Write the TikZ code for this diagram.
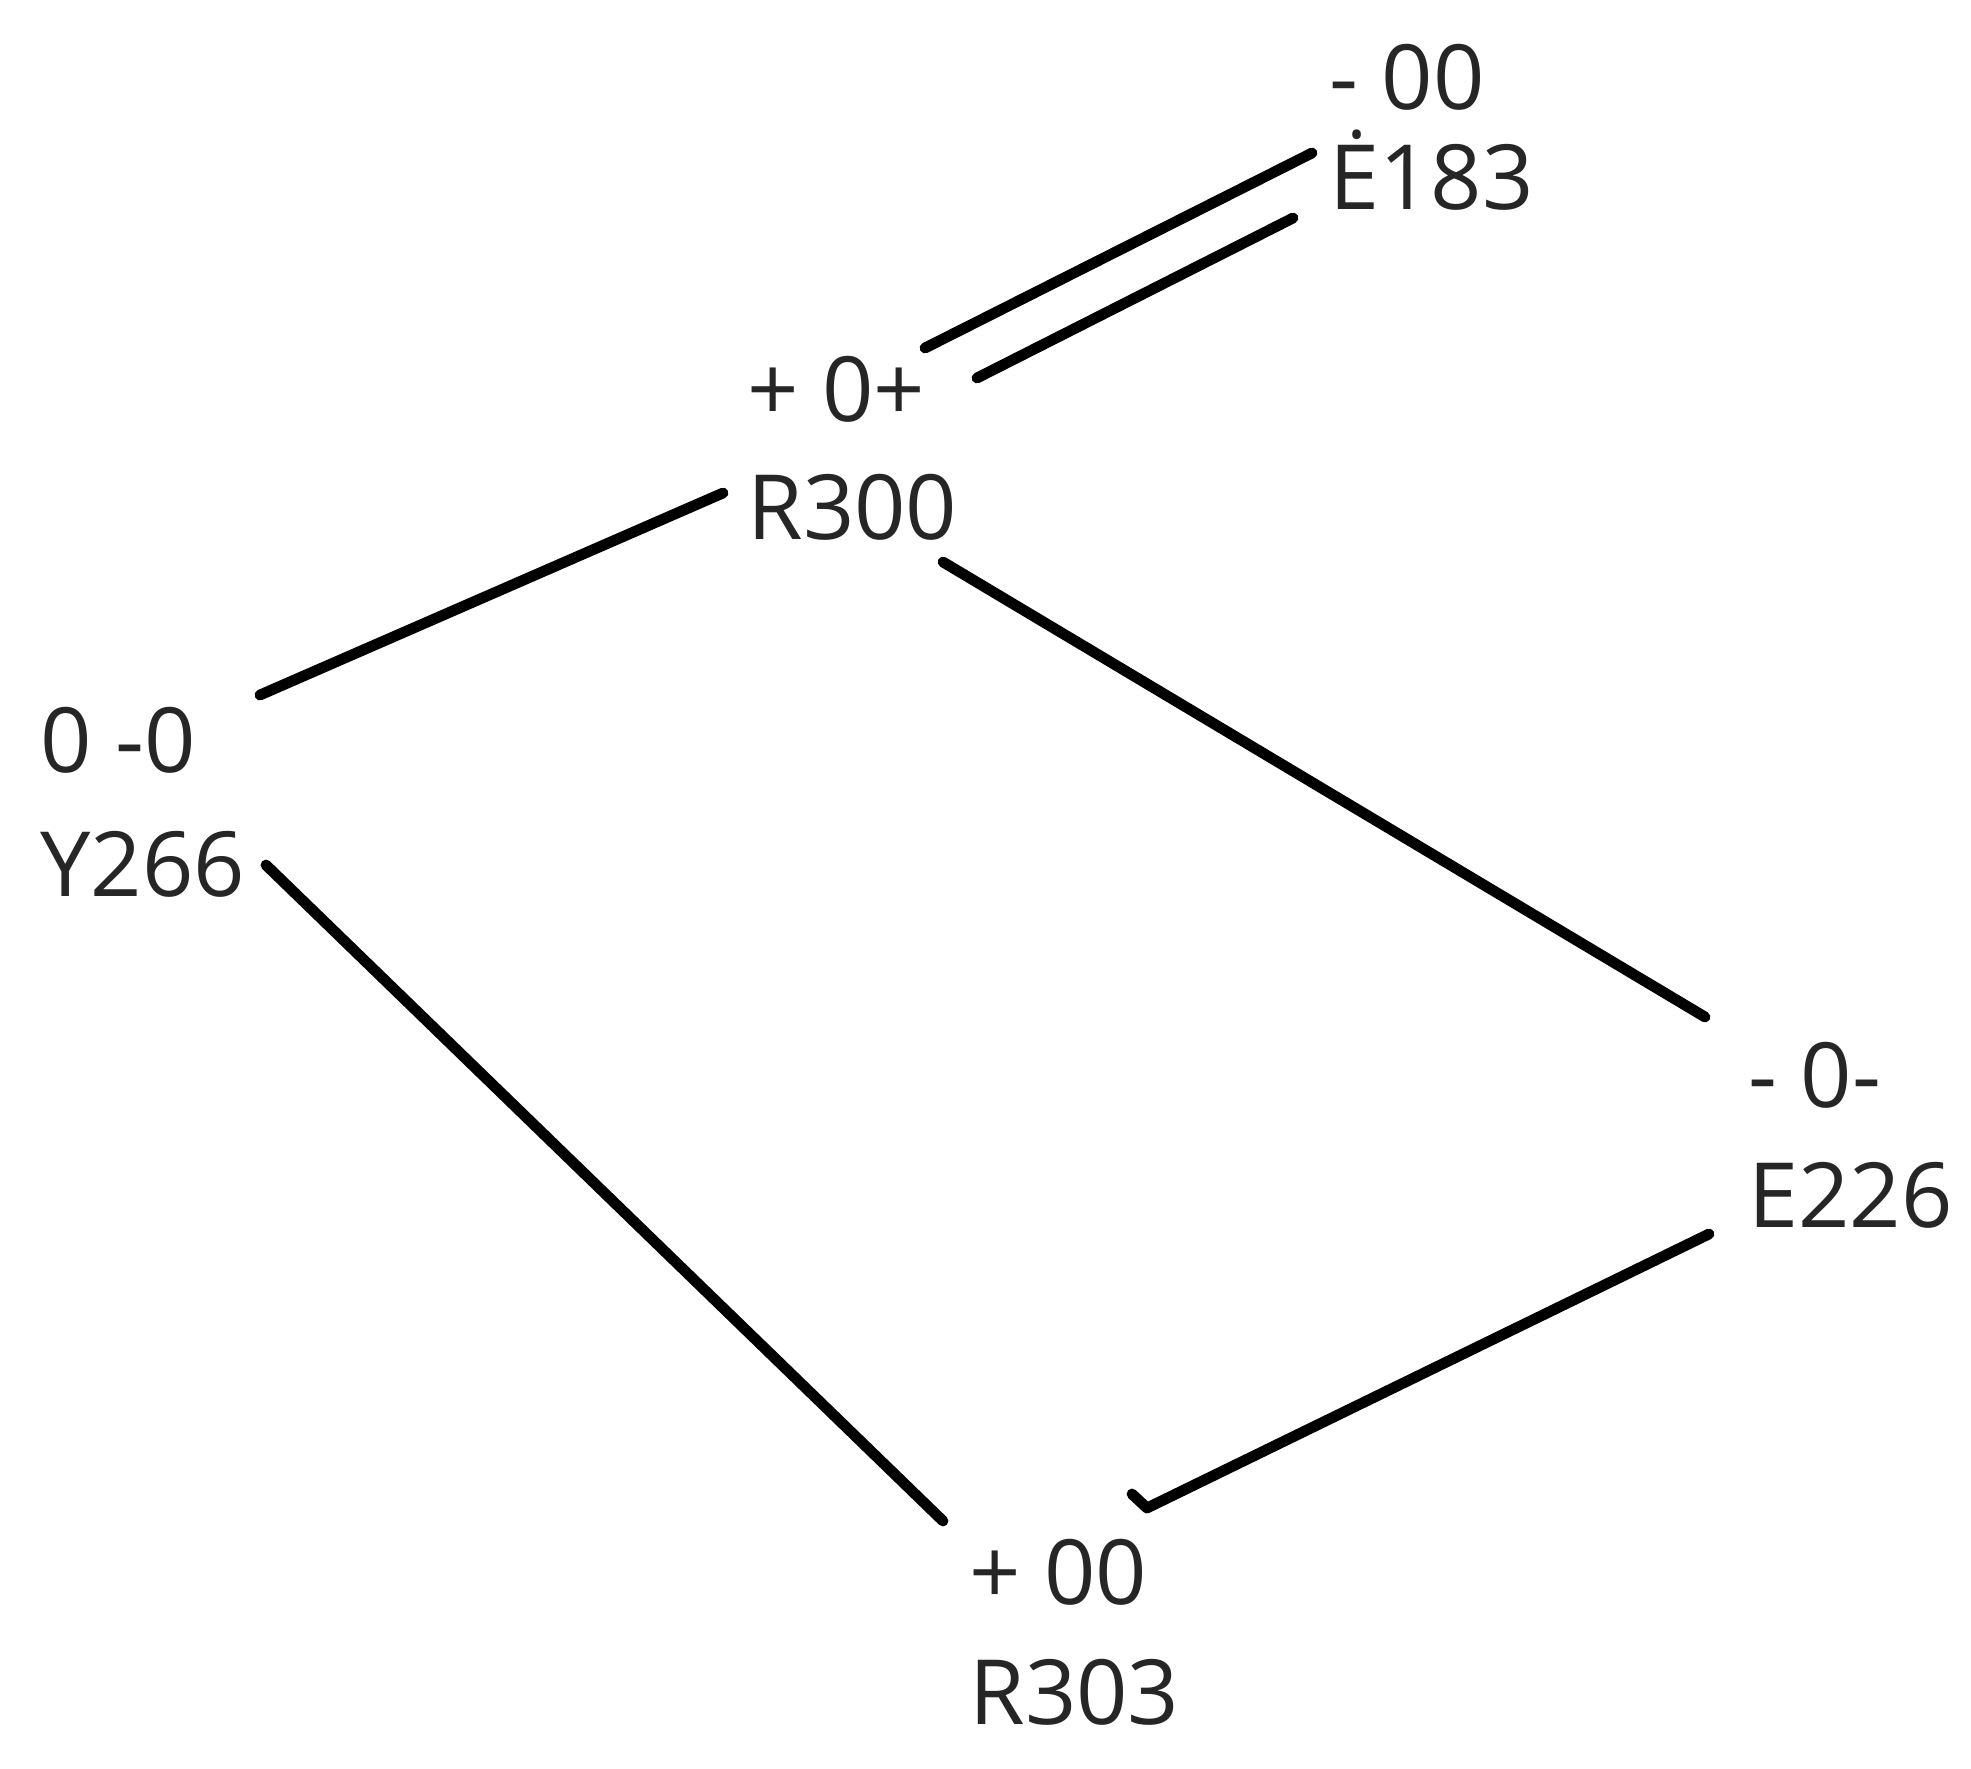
\documentclass[tikz,border=0pt]{standalone}
\usepackage{fontspec}
\setmainfont{Open Sans}
\begin{document}
\begin{tikzpicture}[x=0.5pt,y=-0.5pt,
  lbl/.style={anchor=base west, inner sep=0pt, align=left, text=black!85, font=\fontsize{45}{60}\selectfont},
  bond/.style={line width=5.4pt, line cap=round}]
\useasboundingbox (0,0) rectangle (1971,1768);
% atoms (anchor = baseline of the last line)
\node[lbl] (e183) at (1329,209) {- 00\\[-10pt]Ė183};
\node[lbl] (r300) at (747,539) {+ 0+\\[-1pt]R300};
\node[lbl] (y266) at (40,896) {0 -0\\[2pt]Y266};
\node[lbl] (e226) at (1748,1227) {- 0-\\E226};
\node[lbl] (r303) at (969,1724) {+ 00\\R303};
% connector ends
\coordinate (a1) at (925,348);  \coordinate (a2) at (1312,153);
\coordinate (b1) at (977,378);  \coordinate (b2) at (1293,218);
\coordinate (c1) at (723,493);  \coordinate (c2) at (260,695);
\coordinate (d1) at (943,562);  \coordinate (d2) at (1705,1017);
\coordinate (f1) at (266,865);  \coordinate (f2) at (943,1521);
\coordinate (g1) at (1709,1234); \coordinate (g2) at (1147,1508); \coordinate (g3) at (1132,1494);
% bonds
\draw[bond] (a1) -- (a2);
\draw[bond] (b1) -- (b2);
\draw[bond] (c1) -- (c2);
\draw[bond] (d1) -- (d2);
\draw[bond] (f1) -- (f2);
\draw[bond, line join=round] (g1) -- (g2) -- (g3);
\end{tikzpicture}
\end{document}
